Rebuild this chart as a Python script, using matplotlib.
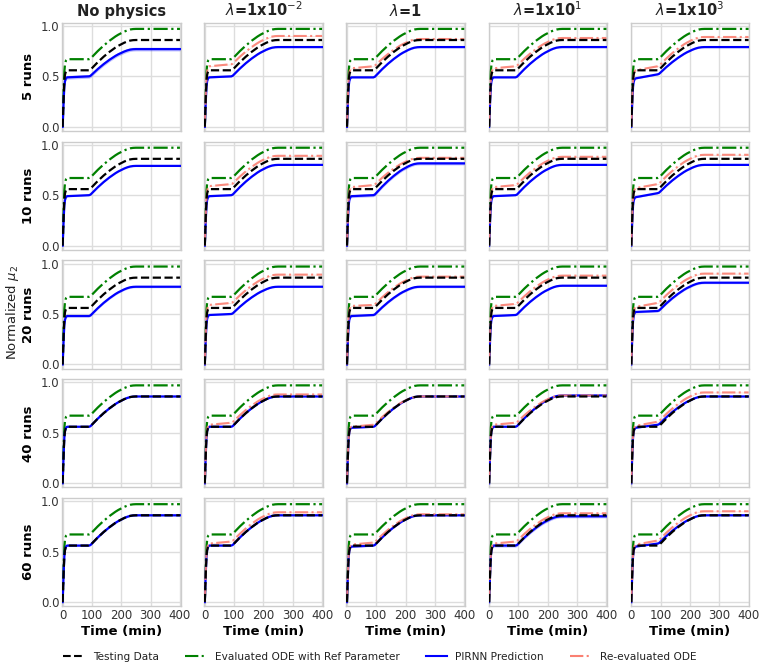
import numpy as np
import matplotlib
matplotlib.use("Agg")
import matplotlib.pyplot as plt

# time knots (min) and the shared curve profile
t_knots = [0, 2, 4, 6, 8, 10, 12, 15,
           90, 95, 100, 110, 120, 130, 140, 150, 160, 170, 180, 190,
           200, 210, 220, 230, 240, 250, 260, 400]
early_frac = [0, 0.30, 0.60, 0.82, 0.92, 0.96, 0.985, 1.0]
late_frac = [0, 0.02, 0.07, 0.17, 0.27, 0.36, 0.45, 0.53, 0.61, 0.68, 0.75, 0.81,
             0.86, 0.91, 0.95, 0.98, 0.995, 1.0, 1.0, 1.0]

col_titles = ["No physics", r"$\lambda$=1x10$^{-2}$", r"$\lambda$=1",
              r"$\lambda$=1x10$^{1}$", r"$\lambda$=1x10$^{3}$"]
row_titles = ["5 runs", "10 runs", "20 runs", "40 runs", "60 runs"]

# levels: (plateau start, plateau end, final)
test_lvl = [(0.56, 0.56, 0.86)] * 5
ref_lvl = (0.67, 0.67, 0.97)

pirnn_lvl = [
    [(0.49, 0.50, 0.77), (0.49, 0.50, 0.79), (0.49, 0.49, 0.79), (0.49, 0.49, 0.79), (0.48, 0.52, 0.79)],
    [(0.49, 0.50, 0.79), (0.49, 0.50, 0.80), (0.49, 0.50, 0.815), (0.49, 0.50, 0.80), (0.48, 0.52, 0.80)],
    [(0.48, 0.48, 0.77), (0.49, 0.50, 0.77), (0.48, 0.49, 0.77), (0.48, 0.49, 0.78), (0.52, 0.53, 0.81)],
    [(0.56, 0.56, 0.86), (0.56, 0.56, 0.86), (0.55, 0.56, 0.86), (0.56, 0.56, 0.87), (0.55, 0.58, 0.86)],
    [(0.56, 0.56, 0.86), (0.56, 0.56, 0.86), (0.55, 0.56, 0.86), (0.56, 0.56, 0.85), (0.55, 0.58, 0.86)],
]
pirnn_band = [
    [0.018, 0.006, 0.006, 0.005, 0.006],
    [0.005, 0.006, 0.015, 0.005, 0.006],
    [0.010, 0.006, 0.010, 0.006, 0.010],
    [0.005, 0.005, 0.006, 0.005, 0.006],
    [0.008, 0.005, 0.008, 0.015, 0.006],
]
reode_lvl = [
    [None, (0.60, 0.62, 0.90), (0.58, 0.60, 0.87), (0.58, 0.60, 0.88), (0.56, 0.60, 0.89)],
    [None, (0.59, 0.61, 0.89), (0.58, 0.60, 0.87), (0.58, 0.60, 0.88), (0.57, 0.61, 0.90)],
    [None, (0.59, 0.61, 0.89), (0.58, 0.59, 0.87), (0.58, 0.60, 0.88), (0.57, 0.61, 0.90)],
    [None, (0.58, 0.60, 0.88), (0.56, 0.58, 0.86), (0.58, 0.60, 0.87), (0.57, 0.61, 0.90)],
    [None, (0.58, 0.60, 0.89), (0.57, 0.59, 0.87), (0.58, 0.60, 0.88), (0.57, 0.61, 0.90)],
]


def curve(lvl):
    # plateau runs from t=15 (start level) to t=90 (end level)
    p0, p1, fin = lvl
    early = [p0 * f for f in early_frac]
    late = [p1 + (fin - p1) * f for f in late_frac]
    return np.array(early + late)


plt.rcParams.update({
    "font.family": "DejaVu Sans",
    "axes.edgecolor": "#cccccc",
    "axes.linewidth": 1.0,
    "grid.color": "#dddddd",
    "grid.linewidth": 1.0,
    "xtick.labelcolor": "#333333",
    "ytick.labelcolor": "#333333",
    "xtick.labelsize": 8.5,
    "ytick.labelsize": 8.5,
    "text.color": "#222222",
})

fig, axes = plt.subplots(5, 5, figsize=(7.66, 6.72), dpi=100, sharex=True, sharey=True)
fig.subplots_adjust(left=0.081, right=0.978, top=0.966, bottom=0.098, wspace=0.2, hspace=0.1)

t = np.array(t_knots)
for r in range(5):
    for c in range(5):
        ax = axes[r, c]
        ax.plot(t, curve(test_lvl[r]), color="black", ls="--", lw=1.6, zorder=4)
        ax.plot(t, curve(ref_lvl), color="green", ls="-.", lw=1.6, zorder=3)
        y = curve(pirnn_lvl[r][c])
        b = pirnn_band[r][c]
        ax.fill_between(t, y - b, y + b, color="#0000ff", alpha=0.25, lw=0, zorder=2)
        ax.plot(t, y, color="#0000ff", lw=1.6, zorder=3)
        if reode_lvl[r][c] is not None:
            yr = curve(reode_lvl[r][c])
            ax.fill_between(t, yr - 0.004, yr + 0.004, color="#fa8072", alpha=0.3, lw=0, zorder=2)
            ax.plot(t, yr, color="#fa8072", ls="-.", lw=1.5, alpha=0.9, zorder=3)
        ax.set_xlim(-2, 402)
        ax.set_ylim(-0.04, 1.03)
        ax.set_xticks([0, 100, 200, 300, 400])
        ax.set_yticks([0.0, 0.5, 1.0])
        ax.grid(True)
        ax.set_axisbelow(True)
        ax.tick_params(length=0, pad=2)
        if r == 0:
            ax.set_title(col_titles[c], fontsize=10.5, fontweight="bold", pad=5)
        if c == 0:
            ax.set_ylabel(row_titles[r], fontsize=9.5, fontweight="bold", labelpad=4)
        if r == 4:
            ax.set_xlabel("Time (min)", fontsize=9.5, fontweight="bold", labelpad=2)

fig.text(0.016, 0.535, r"Normalized $\mu_2$", rotation=90, va="center", ha="center", fontsize=9.5)

handles = [
    plt.Line2D([], [], color="black", ls="--", lw=1.5),
    plt.Line2D([], [], color="green", ls="-.", lw=1.5),
    plt.Line2D([], [], color="#0000ff", lw=1.5),
    plt.Line2D([], [], color="#fa8072", ls="-.", lw=1.5),
]
labels = ["Testing Data", "Evaluated ODE with Ref Parameter", "PIRNN Prediction", "Re-evaluated ODE"]
fig.legend(handles, labels, loc="center", bbox_to_anchor=(0.496, 0.023), ncol=4,
           frameon=False, fontsize=7.6, handlelength=2.0, columnspacing=2.5)

fig.savefig("out.png", dpi=100)
